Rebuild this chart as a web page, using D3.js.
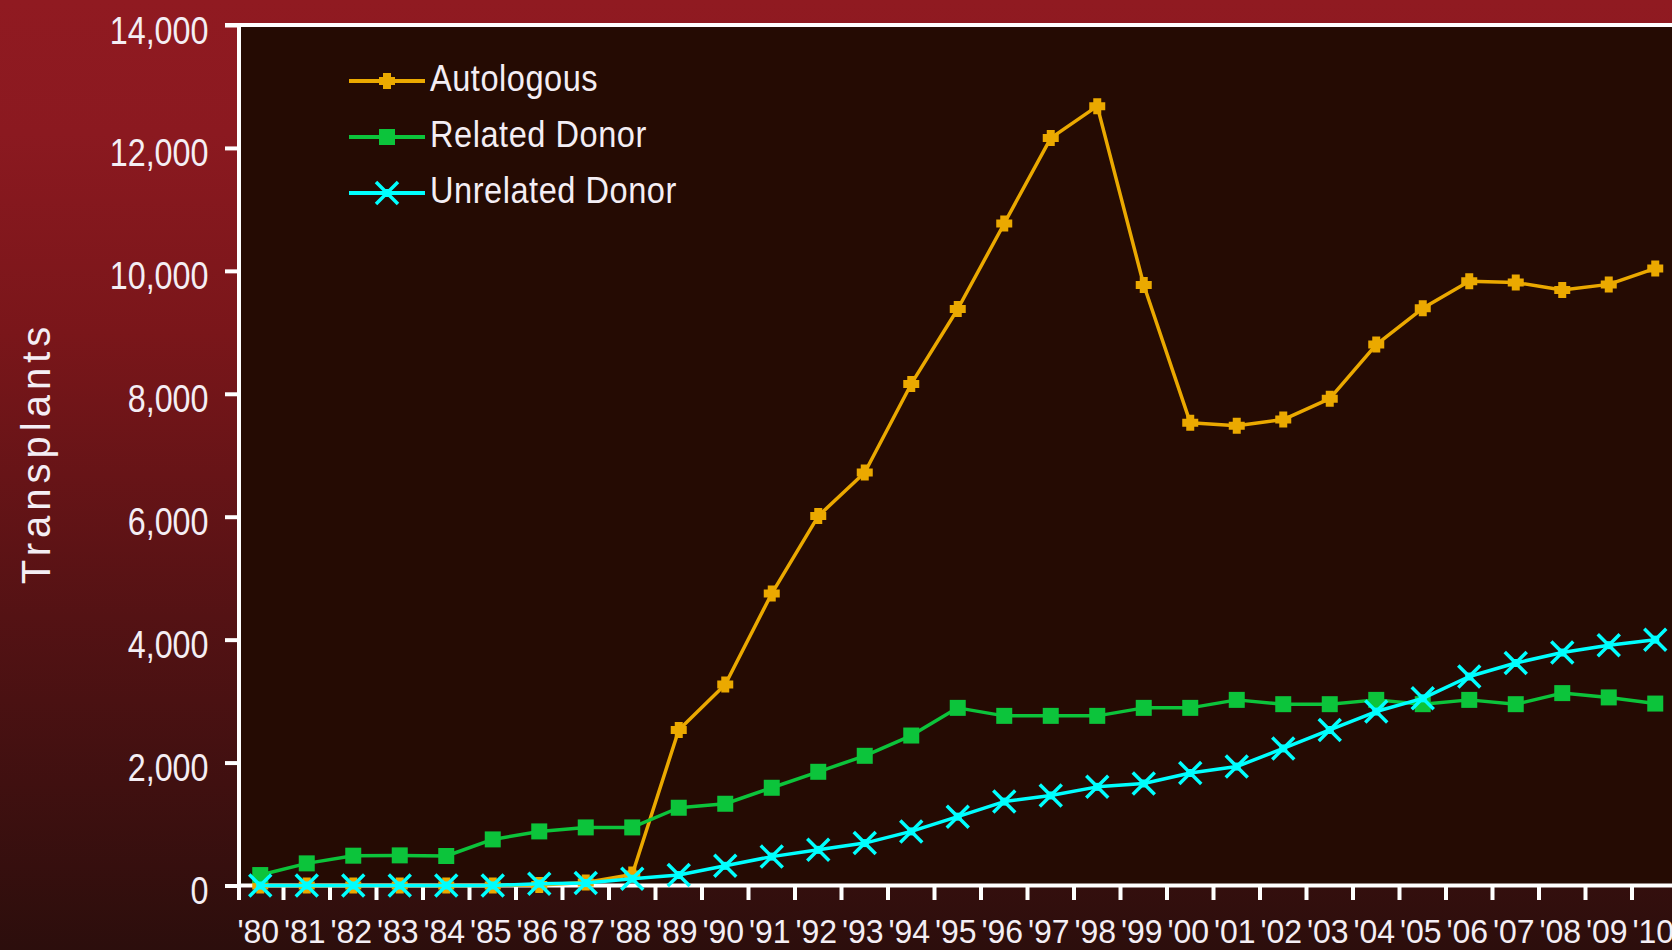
<!DOCTYPE html>
<html>
<head>
<meta charset="utf-8">
<script src="https://cdn.jsdelivr.net/npm/d3@7"></script>
<style>
  html, body { margin: 0; padding: 0; background: #2e0e0c; overflow: hidden; }
  svg { display: block; }
  text { font-family: "Liberation Sans", Arial, sans-serif; fill: #f4eef4; }
</style>
</head>
<body>
<svg id="chart" width="1672" height="950"></svg>
<script>
// ---- data ----
const years = ["'80","'81","'82","'83","'84","'85","'86","'87","'88","'89",
               "'90","'91","'92","'93","'94","'95","'96","'97","'98","'99",
               "'00","'01","'02","'03","'04","'05","'06","'07","'08","'09","'10"];
const autologous = [0,0,0,0,0,0,10,50,180,2530,
                    3270,4750,6010,6720,8160,9380,10770,12160,12680,9770,
                    7530,7480,7580,7920,8800,9390,9830,9810,9690,9780,10040];
const relatedDonor = [170,360,485,490,480,750,880,945,945,1265,
                      1330,1590,1850,2110,2440,2890,2760,2760,2760,2890,
                      2890,3020,2950,2950,3020,2950,3020,2950,3130,3060,2960];
const unrelatedDonor = [0,0,0,0,0,0,30,40,110,170,
                        320,470,580,690,880,1120,1365,1465,1605,1660,
                        1830,1935,2230,2530,2830,3045,3400,3620,3790,3910,4000];
const seriesNames = ["Autologous","Related Donor","Unrelated Donor"];
const yTicks = [0,2000,4000,6000,8000,10000,12000,14000];
const yTitle = "Transplants";

// ---- layout ----
const W = 1672, H = 950;
const plotLeft = 237, bandW = 46.5, plotTop = 25, plotBottom = 885.5;
const svg = d3.select("#chart");

const defs = svg.append("defs");
const grad = defs.append("linearGradient").attr("id","bg").attr("x1",0).attr("y1",0).attr("x2",0).attr("y2",1);
grad.append("stop").attr("offset","0%").attr("stop-color","#901a21");
grad.append("stop").attr("offset","14%").attr("stop-color","#8b1920");
grad.append("stop").attr("offset","35%").attr("stop-color","#7a161a");
grad.append("stop").attr("offset","65%").attr("stop-color","#541214");
grad.append("stop").attr("offset","100%").attr("stop-color","#2c0e0c");
svg.append("rect").attr("width",W).attr("height",H).attr("fill","url(#bg)");

const x = d3.scaleBand().domain(years).range([plotLeft, plotLeft + years.length*bandW]).padding(0);
const y = d3.scaleLinear().domain([0,14000]).range([plotBottom, plotTop]);
const cx = d => x(d) + x.bandwidth()/2;
const plotRight = plotLeft + years.length*bandW;

// plot background
svg.append("rect").attr("x", plotLeft+2).attr("y", plotTop)
   .attr("width", plotRight - plotLeft).attr("height", plotBottom - plotTop)
   .attr("fill","#250b03");

// ---- y axis ----
const yAxis = d3.axisLeft(y).tickValues(yTicks).tickSize(14).tickFormat(d3.format(","));
const gy = svg.append("g").attr("transform",`translate(${plotLeft+2},0)`).call(yAxis);
gy.select(".domain").remove();
gy.selectAll(".tick line").attr("stroke","#ffffff").attr("stroke-width",4);
gy.selectAll(".tick text")
  .attr("x",null).attr("dy",null)
  .attr("text-anchor","end")
  .attr("font-size",38)
  .attr("fill","#f4eef4")
  .attr("transform","translate(-30.5,18) scale(0.85,1)");

// top frame line
svg.append("line").attr("x1", plotLeft-12).attr("x2", W+10).attr("y1", y(14000)).attr("y2", y(14000))
   .attr("stroke","#ffffff").attr("stroke-width",4);
// left axis line
svg.append("line").attr("x1", plotLeft+2).attr("x2", plotLeft+2).attr("y1", plotTop-2).attr("y2", 900)
   .attr("stroke","#ffffff").attr("stroke-width",4);

// ---- x axis ----
svg.append("line").attr("x1", plotLeft).attr("x2", W+10).attr("y1", y(0)).attr("y2", y(0))
   .attr("stroke","#ffffff").attr("stroke-width",4);
svg.append("g").selectAll("line").data(years.slice(1)).join("line")
   .attr("x1", d => x(d)).attr("x2", d => x(d))
   .attr("y1", y(0)).attr("y2", 900)
   .attr("stroke","#ffffff").attr("stroke-width",4);
const xAxis = d3.axisBottom(x).tickSize(0).tickPadding(0);
const gx = svg.append("g").attr("transform",`translate(0,${y(0)})`).call(xAxis);
gx.select(".domain").remove();
gx.selectAll(".tick text")
  .attr("y",null).attr("dy",null)
  .attr("text-anchor","middle")
  .attr("font-size",32)
  .attr("fill","#f4eef4")
  .attr("transform","translate(-2,57.5) scale(1,1.03)");

// y title
svg.append("text")
   .attr("transform","translate(50,453) rotate(-90)")
   .attr("text-anchor","middle")
   .attr("font-size",40)
   .attr("letter-spacing",5)
   .text(yTitle);

// ---- markers ----
const colors = ["#eba900","#0cc43b","#00ffff"];
const plusPath = "M-8,-4H-4V-8H4V-4H8V4H4V8H-4V4H-8Z";
function drawMarker(g, type, color) {
  if (type === 0) {
    g.append("path").attr("d", plusPath).attr("fill", color);
  } else if (type === 1) {
    g.append("rect").attr("x",-8).attr("y",-8).attr("width",16).attr("height",16).attr("fill", color);
  } else {
    g.append("path").attr("d","M-11,-11L11,11M-11,11L11,-11")
      .attr("stroke", color).attr("stroke-width",3.5).attr("fill","none");
    g.append("rect").attr("x",-4).attr("y",-4).attr("width",8).attr("height",8).attr("fill", color);
  }
}

const allSeries = [autologous, relatedDonor, unrelatedDonor];
const line = d3.line().x((d,i) => cx(years[i])).y(d => y(d));
allSeries.forEach((vals, si) => {
  const g = svg.append("g");
  g.append("path").datum(vals).attr("d", line)
   .attr("fill","none").attr("stroke", colors[si]).attr("stroke-width",3.5)
   .attr("stroke-linejoin","round");
  vals.forEach((v,i) => {
    const mg = g.append("g").attr("transform",`translate(${cx(years[i])},${y(v)})`);
    drawMarker(mg, si, colors[si]);
  });
});

// ---- legend ----
const legY = [81, 137, 193];
seriesNames.forEach((name, i) => {
  const g = svg.append("g").attr("transform",`translate(0,${legY[i]})`);
  g.append("line").attr("x1",349).attr("x2",425).attr("y1",0).attr("y2",0)
   .attr("stroke", colors[i]).attr("stroke-width",4);
  const mg = g.append("g").attr("transform","translate(387,0)");
  drawMarker(mg, i, colors[i]);
  g.append("text").attr("font-size",37)
   .attr("letter-spacing",0.6)
   .attr("transform","translate(430,10) scale(0.88,1)")
   .text(name);
});
</script>
</body>
</html>
